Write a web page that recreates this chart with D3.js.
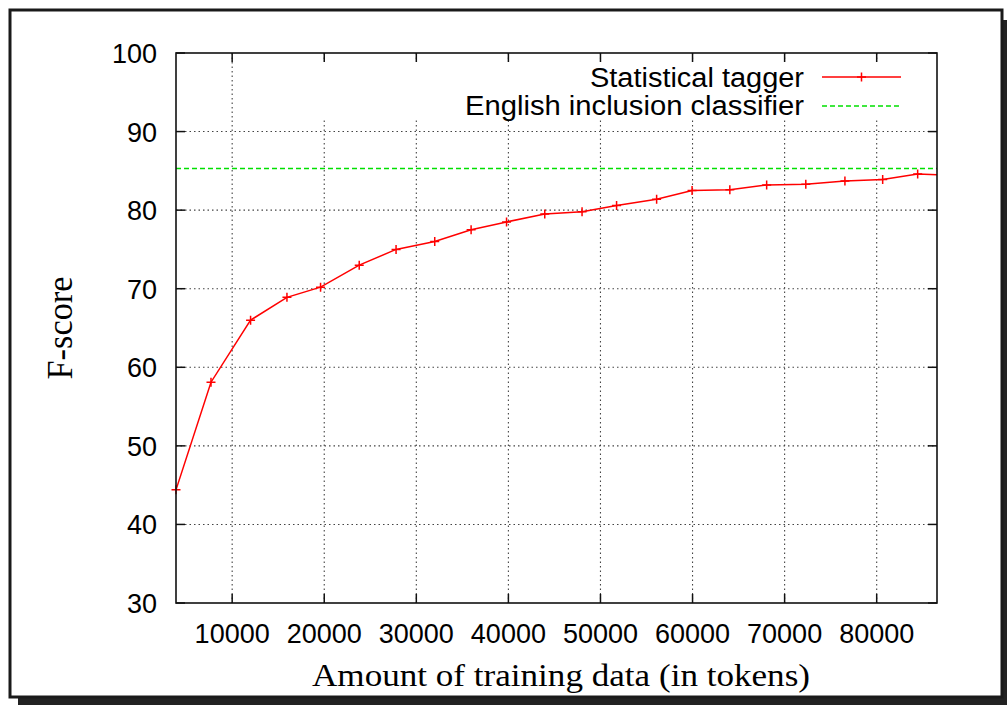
<!DOCTYPE html>
<html>
<head>
<meta charset="utf-8">
<script src="https://cdn.jsdelivr.net/npm/d3@7"></script>
<style>
  body { margin: 0; background: #fff; }
</style>
</head>
<body>
<div id="chart"></div>
<script>
// values
const tokens = [3900, 7700, 12000, 15950, 19600, 23800, 27800, 32000, 35950, 39800, 43950,
  48000, 51750, 56100, 59950, 64050, 68050, 72300, 76550, 80650, 84450, 86550];
const taggerScores = [44.4, 58.1, 66.0, 68.9, 70.2, 73.0, 75.0, 76.0, 77.5, 78.5, 79.5,
  79.8, 80.6, 81.4, 82.5, 82.6, 83.2, 83.3, 83.7, 83.9, 84.6, 84.5];
const classifierScore = 85.3;
const xTicks = [10000, 20000, 30000, 40000, 50000, 60000, 70000, 80000];
const yTicks = [30, 40, 50, 60, 70, 80, 90, 100];
const seriesNames = ["Statistical tagger", "English inclusion classifier"];

const width = 1007;
const height = 705;
const margin = { top: 53, right: 70, bottom: 102, left: 176 };

const sans = "'Liberation Sans', Arial, Helvetica, sans-serif";
const serif = "'Liberation Serif', 'Times New Roman', serif";

const svg = d3.select("#chart")
  .append("svg")
  .attr("width", width)
  .attr("height", height);

// outer frame with drop shadow
svg.append("rect")
  .attr("x", 18).attr("y", 20)
  .attr("width", 994).attr("height", 700)
  .attr("fill", "#222");
svg.append("rect")
  .attr("x", 10).attr("y", 10)
  .attr("width", 992).attr("height", 687)
  .attr("fill", "#fff")
  .attr("stroke", "#1a1a1a")
  .attr("stroke-width", 3);

const x = d3.scaleLinear()
  .domain([tokens[0], tokens[tokens.length - 1]])
  .range([margin.left, width - margin.right]);

const y = d3.scaleLinear()
  .domain([30, 100])
  .range([height - margin.bottom, margin.top]);

const x0 = x.range()[0], x1 = x.range()[1];
const y0 = y.range()[0], y1 = y.range()[1];

svg.append("clipPath").attr("id", "plot-clip")
  .append("rect")
  .attr("x", x0).attr("y", y1)
  .attr("width", x1 - x0).attr("height", y0 - y1);

// grid
const grid = svg.append("g")
  .attr("stroke", "#444")
  .attr("stroke-width", 1.1)
  .attr("stroke-dasharray", "1.5,3");

grid.selectAll(".gy")
  .data(yTicks.filter(d => d > 30 && d < 100))
  .join("line")
  .attr("x1", x0).attr("x2", x1)
  .attr("y1", d => y(d)).attr("y2", d => y(d));

grid.selectAll(".gx")
  .data(xTicks)
  .join("line")
  .attr("x1", d => x(d)).attr("x2", d => x(d))
  .attr("y1", y1).attr("y2", y0);

// opaque key box
const keyG = svg.append("g");
keyG.append("rect")
  .attr("x", 262).attr("y", 61)
  .attr("width", 668).attr("height", 58)
  .attr("fill", "#fff");

const plotG = svg.append("g").attr("clip-path", "url(#plot-clip)");

// classifier line
plotG.append("line")
  .attr("x1", x0).attr("x2", x1)
  .attr("y1", y(classifierScore)).attr("y2", y(classifierScore))
  .attr("stroke", "#00e000")
  .attr("stroke-width", 1.3)
  .attr("stroke-dasharray", "5,3");

const pts = tokens.map((t, i) => ({ t: t, v: taggerScores[i] }));

const line = d3.line()
  .x(d => x(d.t))
  .y(d => y(d.v));

plotG.append("path")
  .datum(pts)
  .attr("fill", "none")
  .attr("stroke", "#ff0000")
  .attr("stroke-width", 1.5)
  .attr("d", line);

const cross = "M-4.5,0H4.5M0,-4.5V4.5";

svg.append("g")
  .selectAll("path")
  .data(pts.slice(0, pts.length - 1))
  .join("path")
  .attr("transform", d => `translate(${x(d.t)},${y(d.v)})`)
  .attr("d", cross)
  .attr("stroke", "#ff0000")
  .attr("stroke-width", 1.5);

// ticks on all four sides
const tickLen = 9;
const ticks = svg.append("g").attr("stroke", "#111").attr("stroke-width", 1.5);
yTicks.forEach(d => {
  ticks.append("line").attr("x1", x0).attr("x2", x0 + tickLen).attr("y1", y(d)).attr("y2", y(d));
  ticks.append("line").attr("x1", x1 - tickLen).attr("x2", x1).attr("y1", y(d)).attr("y2", y(d));
});
xTicks.forEach(d => {
  ticks.append("line").attr("x1", x(d)).attr("x2", x(d)).attr("y1", y0).attr("y2", y0 - tickLen);
  ticks.append("line").attr("x1", x(d)).attr("x2", x(d)).attr("y1", y1).attr("y2", y1 + tickLen);
});

// plot border
svg.append("rect")
  .attr("x", x0).attr("y", y1)
  .attr("width", x1 - x0).attr("height", y0 - y1)
  .attr("fill", "none")
  .attr("stroke", "#111")
  .attr("stroke-width", 1.6);

// tick labels
svg.append("g")
  .selectAll("text")
  .data(yTicks)
  .join("text")
  .attr("x", 157)
  .attr("y", d => y(d) + 10)
  .attr("text-anchor", "end")
  .attr("font-family", sans)
  .attr("font-size", 27)
  .text(d => d);

svg.append("g")
  .selectAll("text")
  .data(xTicks)
  .join("text")
  .attr("x", d => x(d))
  .attr("y", 643)
  .attr("text-anchor", "middle")
  .attr("font-family", sans)
  .attr("font-size", 27)
  .text(d => d);

// axis titles
svg.append("text")
  .attr("x", 561).attr("y", 686)
  .attr("text-anchor", "middle")
  .attr("font-family", serif)
  .attr("font-size", 32)
  .attr("textLength", 498)
  .attr("lengthAdjust", "spacingAndGlyphs")
  .text("Amount of training data (in tokens)");

svg.append("text")
  .attr("transform", "translate(72,328) rotate(-90)")
  .attr("text-anchor", "middle")
  .attr("font-family", serif)
  .attr("font-size", 36)
  .attr("textLength", 103)
  .attr("lengthAdjust", "spacingAndGlyphs")
  .text("F-score");

// legend
const keyRows = [
  { name: seriesNames[0], base: 87, lineY: 77, color: "#ff0000", dash: null, len: 214 },
  { name: seriesNames[1], base: 115, lineY: 106, color: "#00e000", dash: "5,3", len: 339 }
];
keyRows.forEach(r => {
  keyG.append("text")
    .attr("x", 804).attr("y", r.base)
    .attr("text-anchor", "end")
    .attr("font-family", sans)
    .attr("font-size", 27)
    .attr("textLength", r.len)
    .attr("lengthAdjust", "spacingAndGlyphs")
    .text(r.name);
  keyG.append("line")
    .attr("x1", 822).attr("x2", 901)
    .attr("y1", r.lineY).attr("y2", r.lineY)
    .attr("stroke", r.color)
    .attr("stroke-width", r.dash ? 1.3 : 1.5)
    .attr("stroke-dasharray", r.dash);
});
keyG.append("path")
  .attr("transform", "translate(861.5,77)")
  .attr("d", cross)
  .attr("stroke", "#ff0000")
  .attr("stroke-width", 1.5);
</script>
</body>
</html>
